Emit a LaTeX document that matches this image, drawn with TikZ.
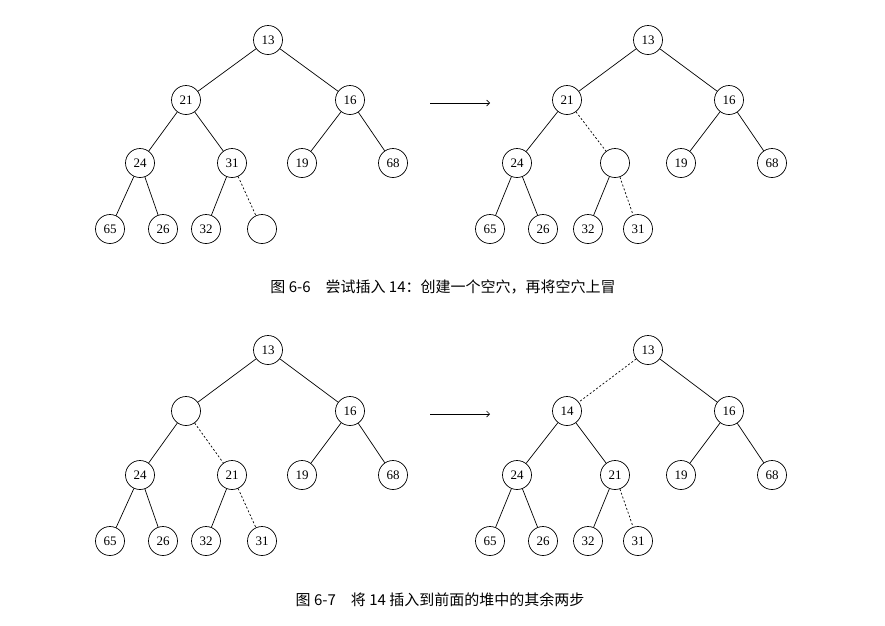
\documentclass[tikz,border=0pt]{standalone}
\usepackage{fontspec}
\usetikzlibrary{arrows.meta}
\setmainfont{Liberation Serif}
\newfontfamily\cjk{Noto Sans CJK SC}
\begin{document}
\begin{tikzpicture}[x=1pt,y=-1pt,
  hn/.style={circle,draw,line width=0.7pt,minimum size=29pt,inner sep=0pt,font=\fontsize{13}{13}\selectfont},
  ed/.style={line width=0.7pt},
  de/.style={line width=0.7pt,dash pattern=on 2pt off 2pt},
  captxt/.style={font=\cjk\fontsize{15}{15}\selectfont}]
\useasboundingbox (0,0) rectangle (885,625);
% Tree A
\node[hn] (a1) at (268,40) {13};
\node[hn] (a2) at (186,100) {21};
\node[hn] (a3) at (350,100) {16};
\node[hn] (a4) at (140,163) {24};
\node[hn] (a5) at (232,163) {31};
\node[hn] (a6) at (302,163) {19};
\node[hn] (a7) at (393,163) {68};
\node[hn] (a8) at (110,229) {65};
\node[hn] (a9) at (163,229) {26};
\node[hn] (a10) at (206,229) {32};
\node[hn] (a11) at (262,229) {};
\draw[ed] (a1)--(a2) (a1)--(a3) (a2)--(a4) (a2)--(a5) (a3)--(a6) (a3)--(a7) (a4)--(a8) (a4)--(a9) (a5)--(a10);
\draw[de] (a5)--(a11);
% Tree B
\node[hn] (b1) at (648,40) {13};
\node[hn] (b2) at (567,100) {21};
\node[hn] (b3) at (729,100) {16};
\node[hn] (b4) at (517,163) {24};
\node[hn] (b5) at (615,163) {};
\node[hn] (b6) at (681,163) {19};
\node[hn] (b7) at (772,163) {68};
\node[hn] (b8) at (490,229) {65};
\node[hn] (b9) at (543,229) {26};
\node[hn] (b10) at (588,229) {32};
\node[hn] (b11) at (638,229) {31};
\draw[ed] (b1)--(b2) (b1)--(b3) (b2)--(b4) (b3)--(b6) (b3)--(b7) (b4)--(b8) (b4)--(b9) (b5)--(b10);
\draw[de] (b2)--(b5) (b5)--(b11);
\coordinate (ar1s) at (430,103); \coordinate (ar1e) at (490,103);
\draw[ed,-{Straight Barb[length=3pt]}] (ar1s)--(ar1e);
\node[captxt] (c1) at (443,287) {图 6-6\quad 尝试插入 14：创建一个空穴，再将空穴上冒};
% Tree C
\node[hn] (c1n) at (268,350) {13};
\node[hn] (c2) at (186,411) {};
\node[hn] (c3) at (350,411) {16};
\node[hn] (c4) at (140,475) {24};
\node[hn] (c5) at (232,475) {21};
\node[hn] (c6) at (302,475) {19};
\node[hn] (c7) at (393,475) {68};
\node[hn] (c8) at (110,541) {65};
\node[hn] (c9) at (163,541) {26};
\node[hn] (c10) at (206,541) {32};
\node[hn] (c11) at (262,541) {31};
\draw[ed] (c1n)--(c2) (c1n)--(c3) (c2)--(c4) (c3)--(c6) (c3)--(c7) (c4)--(c8) (c4)--(c9) (c5)--(c10);
\draw[de] (c2)--(c5) (c5)--(c11);
% Tree D
\node[hn] (d1) at (648,350) {13};
\node[hn] (d2) at (567,411) {14};
\node[hn] (d3) at (729,411) {16};
\node[hn] (d4) at (517,475) {24};
\node[hn] (d5) at (615,475) {21};
\node[hn] (d6) at (681,475) {19};
\node[hn] (d7) at (772,475) {68};
\node[hn] (d8) at (490,541) {65};
\node[hn] (d9) at (543,541) {26};
\node[hn] (d10) at (588,541) {32};
\node[hn] (d11) at (638,541) {31};
\draw[ed] (d1)--(d3) (d2)--(d4) (d2)--(d5) (d3)--(d6) (d3)--(d7) (d4)--(d8) (d4)--(d9) (d5)--(d10);
\draw[de] (d1)--(d2) (d5)--(d11);
\coordinate (ar2s) at (430,414); \coordinate (ar2e) at (490,414);
\draw[ed,-{Straight Barb[length=3pt]}] (ar2s)--(ar2e);
\node[captxt] (c2cap) at (440,600) {图 6-7\quad 将 14 插入到前面的堆中的其余两步};
\end{tikzpicture}
\end{document}
